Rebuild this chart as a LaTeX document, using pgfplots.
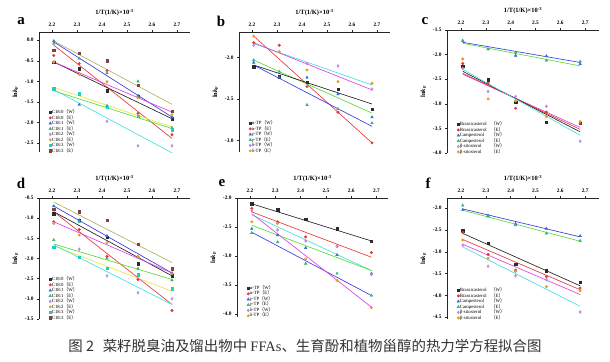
\documentclass[border=0pt]{standalone}
\usepackage{pgfplots}
\pgfplotsset{compat=1.18}
\usepackage{fontspec}
\setmainfont{Liberation Serif}
\newfontfamily\cjk{Noto Sans CJK SC}

\definecolor{mk1}{HTML}{2B2B2B}
\definecolor{mk2}{HTML}{E8383C}
\definecolor{mk3}{HTML}{2E6FD8}
\definecolor{mk4}{HTML}{3BB07A}
\definecolor{mk5}{HTML}{B98CE8}
\definecolor{mk6}{HTML}{E0A21A}
\definecolor{mk7}{HTML}{1FCFC6}
\definecolor{mk8}{HTML}{7A4444}
\definecolor{lBlack}{HTML}{222222}
\definecolor{lRed}{HTML}{E53935}
\definecolor{lBlue}{HTML}{3A3AE0}
\definecolor{lKhaki}{HTML}{B0B060}
\definecolor{lMag}{HTML}{E040E0}
\definecolor{lYel}{HTML}{E6E640}
\definecolor{lGreen}{HTML}{55DD33}
\definecolor{lCyan}{HTML}{40E0E0}

\newcommand{\ser}[6]{\addplot[#1] coordinates {(2.207,#2) (2.309,#3) (2.420,#4) (2.544,#5) (2.680,#6)};}
\newcommand{\fit}[3]{\addplot[#1, line width=0.65pt, forget plot] coordinates {(2.207,#2) (2.680,#3)};}
\newcommand{\lp}{{\cjk （}}
\newcommand{\rp}{{\cjk ）}}
\newcommand{\nm}[1]{\makebox[31bp][l]{#1}}

\pgfplotsset{
 panel/.style={
  scale only axis, width=151bp, height=120bp,
  xmin=2.148, xmax=2.752,
  axis x line=top, axis y line=left,
  axis line style={-, line width=0.5pt, black!85},
  tick style={line width=0.4pt, black!85},
  tick align=outside, major tick length=2bp,
  xtick={2.2,2.3,2.4,2.5,2.6,2.7},
  ticklabel style={font=\bfseries\fontsize{5.4}{5.4}\selectfont,
    /pgf/number format/assume math mode=true,
    /pgf/number format/fixed, /pgf/number format/fixed zerofill,
    /pgf/number format/precision=1},
  xlabel={1/T(1/K)×10\textsuperscript{-3}},
  ylabel={ln\textit{k}\textsubscript{F}},
  label style={font=\bfseries\fontsize{6.5}{7}\selectfont},
  legend style={draw=none, fill=none, at={(0.045,-0.03)}, anchor=south west,
    font=\fontsize{4.8}{5}\selectfont, row sep=0.4bp,
    nodes={inner sep=0.3pt, text height=3.4bp, text depth=1.1bp}},
  legend cell align=left,
  legend image code/.code={\draw[mark repeat=2,mark phase=2,#1] plot coordinates {(0cm,0cm) (0.07cm,0cm) (0.14cm,0cm)};},
  clip=false,
 },
 s1/.style={only marks, mark=square*, mark size=1.2pt, color=mk1},
 s2/.style={only marks, mark=*, mark size=1.3pt, color=mk2},
 s3/.style={only marks, mark=triangle*, mark size=1.5pt, color=mk3},
 s4/.style={only marks, mark=triangle*, mark size=1.5pt, color=mk4},
 s5/.style={only marks, mark=diamond*, mark size=1.5pt, color=mk5},
 s6/.style={only marks, mark=*, mark size=1.3pt, color=mk6},
 s7/.style={only marks, mark=square*, mark size=1.2pt, color=mk7},
 s8/.style={only marks, mark=square*, mark size=1.2pt, color=mk8},
}

\begin{document}
\begin{tikzpicture}
\useasboundingbox (0,0) rectangle (610bp,-362bp);

% ---------------- a ----------------
\begin{axis}[panel, at={(39bp,-32bp)}, anchor=north west,
  ymin=-2.72, ymax=0.2, ytick={0,-0.5,-1,-1.5,-2,-2.5}]
\fit{lKhaki}{-0.02}{-1.56}
\fit{lBlue}{-0.04}{-1.87}
\fit{lRed}{-0.12}{-2.39}
\fit{lBlack}{-0.53}{-1.91}
\fit{lMag}{-0.53}{-1.75}
\fit{lYel}{-1.15}{-2.11}
\fit{lGreen}{-1.23}{-2.15}
\fit{lCyan}{-1.20}{-2.74}
\ser{s1}{-0.53}{-0.69}{-1.23}{-1.36}{-1.91}\addlegendentry{C18:0\lp W\rp}
\ser{s2}{-0.37}{-0.57}{-0.74}{-1.78}{-2.30}\addlegendentry{C18:0\lp E\rp}
\ser{s3}{-0.02}{-1.57}{-1.60}{-1.35}{-1.88}\addlegendentry{C18:1\lp W\rp}
\ser{s4}{-0.08}{-0.45}{-0.80}{-1.00}{-2.13}\addlegendentry{C18:1\lp E\rp}
\ser{s5}{-0.52}{-0.82}{-1.97}{-2.57}{-2.57}\addlegendentry{C18:2\lp W\rp}
\ser{s6}{-0.53}{-0.83}{-1.01}{-1.40}{-1.81}\addlegendentry{C18:2\lp E\rp}
\ser{s7}{-1.18}{-1.30}{-1.63}{-1.85}{-2.18}\addlegendentry{C18:3\lp W\rp}
\ser{s8}{-0.24}{-0.31}{-0.50}{-1.10}{-1.72}\addlegendentry{C18:3\lp E\rp}
\end{axis}

% ---------------- b ----------------
\begin{axis}[panel, at={(239bp,-32bp)}, anchor=north west,
  ymin=-3.14, ymax=-1.69, ytick={-2,-2.5,-3}]
\fit{lRed}{-1.74}{-3.03}
\fit{lCyan}{-1.83}{-2.33}
\fit{lMag}{-1.82}{-2.39}
\fit{lGreen}{-2.03}{-2.67}
\fit{lBlack}{-2.09}{-2.56}
\fit{lBlue}{-2.09}{-2.83}
\ser{s1}{-2.11}{-2.23}{-2.30}{-2.38}{-2.62}\addlegendentry{α-TP\lp W\rp}
\ser{s2}{-1.82}{-1.85}{-2.35}{-2.66}{-3.03}\addlegendentry{α-TP\lp E\rp}
\ser{s3}{-2.06}{-2.24}{-2.24}{-2.44}{-2.72}\addlegendentry{γ-TP\lp W\rp}
\ser{s4}{-2.03}{-2.17}{-2.57}{-2.62}{-2.79}\addlegendentry{γ-TP\lp E\rp}
\ser{s5}{-1.85}{-1.93}{-2.07}{-2.10}{-2.38}\addlegendentry{δ-TP\lp W\rp}
\ser{s6}{-1.74}{-1.93}{-2.15}{-2.29}{-2.31}\addlegendentry{δ-TP\lp E\rp}
\end{axis}

% ---------------- c ----------------
\begin{axis}[panel, at={(447bp,-30bp)}, anchor=north west, width=152bp, height=123bp,
  xmin=2.1435, xmax=2.756,
  ymin=-4.0, ymax=-1.5, ytick={-1.5,-2,-2.5,-3,-3.5,-4}]
\fit{lBlue}{-1.75}{-2.16}
\fit{lGreen}{-1.77}{-2.23}
\fit{lMag}{-2.40}{-3.48}
\fit{lRed}{-2.38}{-3.52}
\fit{lBlack}{-2.34}{-3.57}
\fit{lCyan}{-2.30}{-3.64}
\ser{s1}{-2.23}{-2.51}{-2.97}{-3.37}{-3.39}\addlegendentry{\nm{Brassicasterol}\lp W\rp}
\ser{s2}{-2.18}{-2.58}{-3.09}{-3.17}{-3.40}\addlegendentry{\nm{Brassicasterol}\lp E\rp}
\ser{s3}{-1.72}{-1.89}{-2.02}{-2.03}{-2.19}\addlegendentry{\nm{Campesterol}\lp W\rp}
\ser{s4}{-1.72}{-1.89}{-1.96}{-2.12}{-2.14}\addlegendentry{\nm{Campesterol}\lp E\rp}
\ser{s5}{-2.28}{-2.75}{-2.85}{-3.05}{-3.76}\addlegendentry{\nm{β-sitosterol}\lp W\rp}
\ser{s6}{-2.09}{-2.90}{-2.94}{-3.26}{-3.36}\addlegendentry{\nm{β-sitosterol}\lp E\rp}
\end{axis}

% ---------------- d ----------------
\begin{axis}[panel, at={(39bp,-198bp)}, anchor=north west, height=121bp,
  ymin=-3.5, ymax=-0.5, ytick={-0.5,-1,-1.5,-2,-2.5,-3,-3.5}]
\fit{lKhaki}{-0.60}{-2.10}
\fit{lBlue}{-0.70}{-2.36}
\fit{lBlack}{-0.84}{-2.43}
\fit{lRed}{-0.84}{-3.14}
\fit{lMag}{-1.09}{-2.36}
\fit{lGreen}{-1.64}{-2.52}
\fit{lYel}{-1.69}{-2.81}
\fit{lCyan}{-1.66}{-3.14}
\ser{s1}{-0.89}{-1.05}{-1.47}{-2.13}{-2.43}\addlegendentry{C18:0\lp W\rp}
\ser{s2}{-1.09}{-1.28}{-1.95}{-2.52}{-3.29}\addlegendentry{C18:0\lp E\rp}
\ser{s3}{-0.70}{-1.05}{-1.44}{-1.97}{-2.36}\addlegendentry{C18:1\lp W\rp}
\ser{s4}{-1.54}{-1.09}{-2.00}{-2.25}{-2.54}\addlegendentry{C18:1\lp E\rp}
\ser{s5}{-1.13}{-1.77}{-2.43}{-2.85}{-3.00}\addlegendentry{C18:2\lp W\rp}
\ser{s6}{-1.13}{-1.42}{-1.61}{-1.95}{-2.38}\addlegendentry{C18:2\lp E\rp}
\ser{s7}{-1.72}{-1.97}{-2.24}{-2.40}{-2.75}\addlegendentry{C18:3\lp W\rp}
\ser{s8}{-0.78}{-0.84}{-1.05}{-1.65}{-2.25}\addlegendentry{C18:3\lp E\rp}
\end{axis}

% ---------------- e ----------------
\begin{axis}[panel, at={(237bp,-198bp)}, anchor=north west, height=119bp,
  xmin=2.1486, xmax=2.7454,
  ymin=-4.05, ymax=-2.0, ytick={-2,-2.5,-3,-3.5,-4}]
\fit{lBlack}{-2.10}{-2.74}
\fit{lRed}{-2.24}{-3.02}
\fit{lCyan}{-2.29}{-3.25}
\fit{lGreen}{-2.47}{-3.25}
\fit{lBlue}{-2.59}{-3.68}
\fit{lMag}{-2.27}{-3.88}
\ser{s1}{-2.10}{-2.20}{-2.37}{-2.53}{-2.74}\addlegendentry{α-TP\lp W\rp}
\ser{s2}{-2.18}{-2.41}{-2.67}{-2.83}{-2.94}\addlegendentry{α-TP\lp E\rp}
\ser{s3}{-2.53}{-2.64}{-2.86}{-2.98}{-3.30}\addlegendentry{γ-TP\lp W\rp}
\ser{s4}{-2.60}{-2.76}{-3.13}{-3.30}{-3.68}\addlegendentry{γ-TP\lp E\rp}
\ser{s5}{-2.22}{-2.55}{-2.74}{-2.83}{-3.32}\addlegendentry{δ-TP\lp W\rp}
\ser{s6}{-2.41}{-2.44}{-3.05}{-3.42}{-3.89}\addlegendentry{δ-TP\lp E\rp}
\end{axis}

% ---------------- f ----------------
\begin{axis}[panel, at={(447bp,-198bp)}, anchor=north west, width=152bp, height=121bp,
  xmin=2.1435, xmax=2.756,
  ymin=-4.54, ymax=-1.77, ytick={-2,-2.5,-3,-3.5,-4,-4.5}]
\fit{lBlue}{-2.02}{-2.66}
\fit{lGreen}{-2.05}{-2.76}
\fit{lBlack}{-2.58}{-3.78}
\fit{lRed}{-2.72}{-3.87}
\fit{lMag}{-2.83}{-3.98}
\fit{lCyan}{-2.89}{-4.25}
\ser{s1}{-2.52}{-2.81}{-3.28}{-3.43}{-3.70}\addlegendentry{\nm{Brassicasterol}\lp W\rp}
\ser{s2}{-2.56}{-3.06}{-3.42}{-3.57}{-3.83}\addlegendentry{\nm{Brassicasterol}\lp E\rp}
\ser{s3}{-2.04}{-2.17}{-2.36}{-2.47}{-2.64}\addlegendentry{\nm{Campesterol}\lp W\rp}
\ser{s4}{-1.94}{-2.19}{-2.39}{-2.58}{-2.75}\addlegendentry{\nm{Campesterol}\lp E\rp}
\ser{s5}{-2.85}{-3.33}{-3.55}{-3.64}{-4.38}\addlegendentry{\nm{β-sitosterol}\lp W\rp}
\ser{s6}{-2.73}{-3.15}{-3.45}{-3.80}{-3.89}\addlegendentry{\nm{β-sitosterol}\lp E\rp}
\end{axis}

% panel letters
\begin{scope}[every node/.style={font=\bfseries\fontsize{15}{15}\selectfont}]
\node at (21bp,-21bp) {a};
\node at (221bp,-21bp) {b};
\node at (425bp,-21bp) {c};
\node at (21bp,-183bp) {d};
\node at (222bp,-183bp) {e};
\node at (428bp,-183bp) {f};
\end{scope}

\node[font=\cjk\fontsize{14.5}{15}\selectfont, text=black!80] at (305bp,-346bp)
  {图 2\hspace{0.6em}菜籽脱臭油及馏出物中 {\rmfamily FFAs}、生育酚和植物甾醇的热力学方程拟合图};
\end{tikzpicture}
\end{document}
